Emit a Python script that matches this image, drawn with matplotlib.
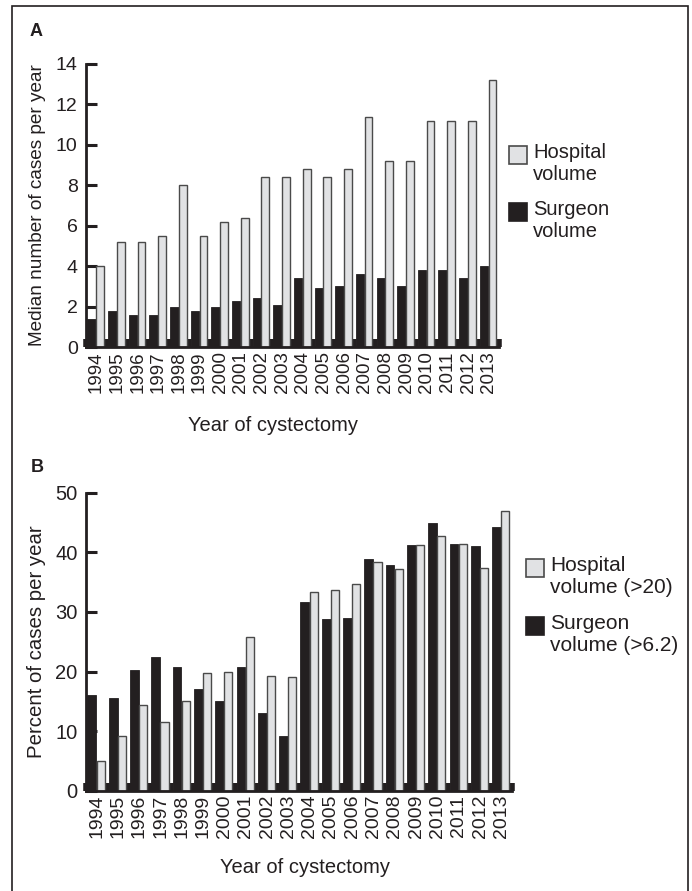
import matplotlib
matplotlib.use("Agg")
import matplotlib.pyplot as plt
from matplotlib.patches import Rectangle
import numpy as np

plt.rcParams['font.family'] = ['Liberation Sans', 'DejaVu Sans']

years = [str(y) for y in range(1994, 2014)]

# Panel A: median number of cases per year
hosp_median = [4.0, 5.2, 5.2, 5.5, 8.0, 5.5, 6.2, 6.4, 8.4, 8.4,
               8.8, 8.4, 8.8, 11.4, 9.2, 9.2, 11.2, 11.2, 11.2, 13.2]
surg_median = [1.4, 1.8, 1.6, 1.6, 2.0, 1.8, 2.0, 2.3, 2.4, 2.1,
               3.4, 2.9, 3.0, 3.6, 3.4, 3.0, 3.8, 3.8, 3.4, 4.0]

# Panel B: percent of cases per year
hosp_pct = [5.0, 9.1, 14.3, 11.6, 15.1, 19.7, 19.9, 25.8, 19.2, 19.0,
            33.4, 33.7, 34.7, 38.3, 37.2, 41.2, 42.8, 41.4, 37.3, 47.0]
surg_pct = [16.0, 15.6, 20.3, 22.5, 20.7, 17.1, 15.0, 20.8, 13.1, 9.2,
            31.6, 28.8, 29.0, 38.9, 37.8, 41.2, 45.0, 41.4, 41.1, 44.3]

legend_a = ["Hospital\nvolume", "Surgeon\nvolume"]
legend_b = ["Hospital\nvolume (>20)", "Surgeon\nvolume (>6.2)"]

BLACK = '#231f20'
GRAY = '#e1e2e4'
EDGE = '#4a4a4a'

W, H = 692, 891
fig = plt.figure(figsize=(W / 100, H / 100), dpi=100)


def fx(px):
    return px / W


def fy(py):
    return 1 - py / H


# outer frame (bottom is cut off)
fig.add_artist(Rectangle((fx(12), fy(900)), fx(688) - fx(12), fy(6) - fy(900),
                         transform=fig.transFigure, fill=False,
                         edgecolor=BLACK, linewidth=1.2))


def panel(rect, hosp, surg, ymax, ystep, ylabel, tick_fs, lab_fs, ylab_fs):
    ax = fig.add_axes(rect)
    x = np.arange(len(years))
    bw = 0.41
    ax.bar(x - bw / 2 - 0.02, surg, width=bw, color=BLACK, edgecolor=BLACK,
           linewidth=0.6, zorder=2)
    ax.bar(x + bw / 2 - 0.02, hosp, width=bw * 0.92, color=GRAY, edgecolor=EDGE,
           linewidth=1.0, zorder=2)
    ax.set_xlim(-0.5, len(years) - 0.5)
    ax.set_ylim(0, ymax)
    ax.set_yticks(np.arange(0, ymax + 0.1, ystep))
    ax.set_xticks(x)
    ax.set_xticklabels(years, rotation=90, fontsize=tick_fs, color=BLACK)
    ax.set_xticks(np.arange(-0.5, len(years), 1.0), minor=True)
    ax.tick_params(axis='x', which='major', length=0, pad=3)
    ax.tick_params(axis='x', which='minor', direction='in', length=6,
                   width=4, color=BLACK)
    ax.tick_params(axis='y', direction='in', length=8, width=2.2,
                   color=BLACK, labelsize=tick_fs + 0.5, labelcolor=BLACK, pad=6)
    for s in ['top', 'right']:
        ax.spines[s].set_visible(False)
    for s in ['left', 'bottom']:
        ax.spines[s].set_linewidth(2.0)
        ax.spines[s].set_color(BLACK)
    ax.set_ylabel(ylabel, fontsize=ylab_fs, color=BLACK)
    ax.set_xlabel("Year of cystectomy", fontsize=lab_fs, color=BLACK)
    return ax


axA = panel([fx(86), fy(347), fx(499) - fx(86), fy(64) - fy(347)],
            hosp_median, surg_median, 14, 2,
            "Median number of cases per year", 13.5, 14.5, 13.7)
axA.yaxis.set_label_coords(-0.098, 0.5)
axA.xaxis.set_label_coords(0.453, -0.245)

axB = panel([fx(86), fy(790.7), fx(512) - fx(86), fy(492.7) - fy(790.7)],
            hosp_pct, surg_pct, 50, 10,
            "Percent of cases per year", 14, 14.5, 14.7)
axB.yaxis.set_label_coords(-0.095, 0.5)
axB.xaxis.set_label_coords(0.514, -0.225)

# panel letters
fig.text(fx(30), fy(36.5), "A", fontsize=13, fontweight='bold', color=BLACK)
fig.text(fx(31), fy(471.5), "B", fontsize=13, fontweight='bold', color=BLACK)


def legend(x0, y_boxes, labels, fs):
    size = 18
    colors = [(GRAY, EDGE), (BLACK, BLACK)]
    for (yb, lab, (fc, ec)) in zip(y_boxes, labels, colors):
        fig.add_artist(Rectangle((fx(x0), fy(yb + size)), fx(size), fy(0) - fy(size),
                                 transform=fig.transFigure, facecolor=fc,
                                 edgecolor=ec, linewidth=1.2))
        fig.text(fx(x0 + size + 6), fy(yb - 3), lab, fontsize=fs, color=BLACK,
                 va='top', ha='left', linespacing=1.22)


legend(509, [146, 203], legend_a, 14.5)
legend(526, [559, 617], legend_b, 15)

fig.savefig("out.png", dpi=100)
